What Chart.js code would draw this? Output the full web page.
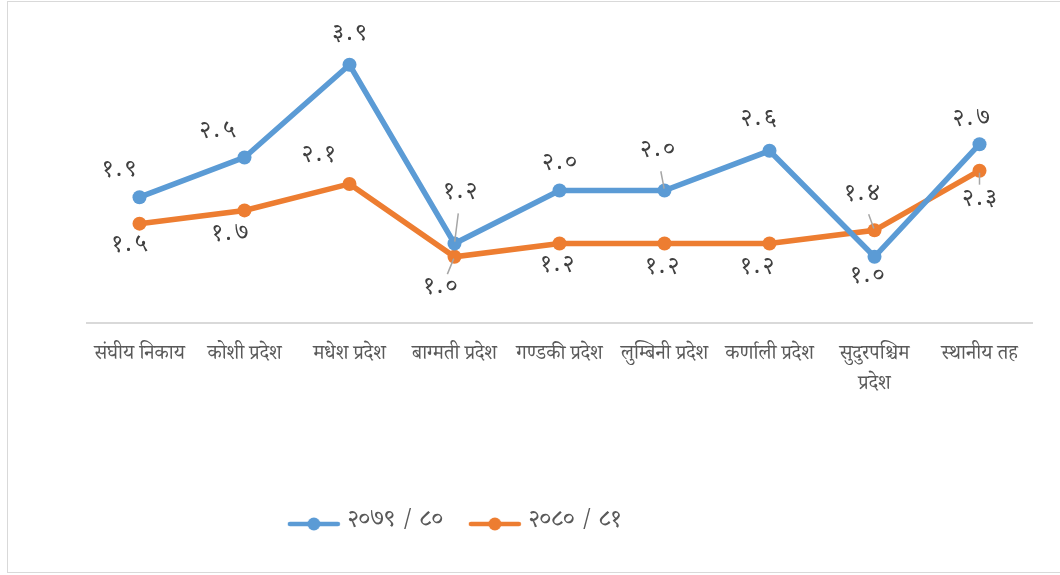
<!DOCTYPE html>
<html>
<head>
<meta charset="utf-8">
<script src="https://cdn.jsdelivr.net/npm/chart.js@4.4.1/dist/chart.umd.min.js"></script>
<style>
  html, body { margin: 0; padding: 0; background: #ffffff; }
  #wrap { position: absolute; left: 0; top: 0; width: 1060px; height: 575px; }
  #frame { position: absolute; left: 7px; top: 1px; width: 1060px; height: 570px;
           border-left: 1px solid #d9d9d9; border-top: 1px solid #d9d9d9; border-bottom: 1px solid #d9d9d9;
           pointer-events: none; }
</style>
</head>
<body>
<div id="wrap"><canvas id="c" width="1060" height="575"></canvas></div>
<div id="frame"></div>
<script>
// ---- data ----
const categories = [
  'संघीय निकाय', 'कोशी प्रदेश', 'मधेश प्रदेश', 'बाग्मती प्रदेश', 'गण्डकी प्रदेश',
  'लुम्बिनी प्रदेश', 'कर्णाली प्रदेश', ['सुदुरपश्चिम', 'प्रदेश'], 'स्थानीय तह'
];
const seriesNames = ['२०७९ / ८०', '२०८० / ८१'];
const values7980 = [1.9, 2.5, 3.9, 1.2, 2.0, 2.0, 2.6, 1.0, 2.7];
const values8081 = [1.5, 1.7, 2.1, 1.0, 1.2, 1.2, 1.2, 1.4, 2.3];

// ---- styling (label offsets relative to point, leader flags) ----
const labelOffsets = [
  [[-20,-24],[-27,-23],[0,-27],[6,-48],[0,-24],[-7,-37],[-11,-28],[-7,23],[-8,-22]],
  [[-10,25],[-14,27],[-31,-25],[-14,34],[-2,25],[-2,27],[-12,27],[-12,-33],[0,32]]
];
const leaders = [
  [false,false,false,true,false,true,false,false,false],
  [false,false,false,true,false,false,false,true,true]
];
const colors = ['#5b9bd5', '#ed7d31'];
const devFont = "'Noto Serif Devanagari','Lohit Devanagari','Mangal','Kokila','FreeSerif','Noto Sans Devanagari','Noto Sans',serif";

const toDev = s => String(s).replace(/[0-9]/g, d => '०१२३४५६७८९'[+d]);

function legendImage(color) {
  const c = document.createElement('canvas');
  c.width = 54; c.height = 16;
  const x = c.getContext('2d');
  x.strokeStyle = color; x.lineWidth = 4.5; x.lineCap = 'round';
  x.beginPath(); x.moveTo(3, 8); x.lineTo(51, 8); x.stroke();
  x.fillStyle = color; x.beginPath(); x.arc(27, 8, 6.5, 0, Math.PI * 2); x.fill();
  return c;
}
const legendImgs = colors.map(legendImage);

const dataLabelPlugin = {
  id: 'dataLabels',
  afterDatasetsDraw(chart) {
    const ctx = chart.ctx;
    ctx.save();
    chart.data.datasets.forEach((ds, di) => {
      const meta = chart.getDatasetMeta(di);
      meta.data.forEach((pt, i) => {
        const [dx, dy] = labelOffsets[di][i];
        const lx = pt.x + dx, ly = pt.y + dy;
        if (leaders[di][i]) {
          const dist = Math.hypot(dx, dy);
          const ux = dx / dist, uy = dy / dist;
          const len = dist - 18;
          ctx.strokeStyle = '#a6a6a6'; ctx.lineWidth = 1.5;
          ctx.beginPath();
          ctx.moveTo(pt.x + ux * 2, pt.y + uy * 2);
          ctx.lineTo(pt.x + ux * len, pt.y + uy * len);
          ctx.stroke();
        }
        ctx.fillStyle = '#404040';
        ctx.font = '24px ' + devFont;
        try { ctx.letterSpacing = '3px'; } catch (e) {}
        ctx.textAlign = 'center';
        ctx.textBaseline = 'middle';
        ctx.fillText(toDev(ds.data[i].toFixed(1)), lx + 1.5, ly);
      });
    });
    ctx.restore();
  }
};

const legendShift = {
  id: 'legendShift',
  afterLayout(chart) {
    const lg = chart.legend;
    if (!lg) return;
    const dx = -103;
    lg.left += dx; lg.right += dx;
    const h = lg.bottom - lg.top;
    const top = 482;
    lg.top = top; lg.bottom = top + h;
    if (lg.legendHitBoxes) lg.legendHitBoxes.forEach(b => { b.left += dx; });
  }
};

new Chart(document.getElementById('c'), {
  type: 'line',
  data: {
    labels: categories,
    datasets: [
      { label: seriesNames[0], data: values7980, borderColor: colors[0], backgroundColor: colors[0],
        borderWidth: 5.5, pointRadius: 7, pointHoverRadius: 7, pointBackgroundColor: colors[0],
        pointBorderWidth: 0, tension: 0, pointStyle: 'circle' },
      { label: seriesNames[1], data: values8081, borderColor: colors[1], backgroundColor: colors[1],
        borderWidth: 5.5, pointRadius: 7, pointHoverRadius: 7, pointBackgroundColor: colors[1],
        pointBorderWidth: 0, tension: 0, pointStyle: 'circle' }
    ]
  },
  options: {
    responsive: false,
    animation: false,
    layout: { padding: { left: 87, right: 28, top: 25, bottom: 0 } },
    scales: {
      y: { display: false, min: 0, max: 4.5 },
      x: {
        offset: true,
        grid: { display: false, drawTicks: false },
        border: { display: true, color: '#d9d9d9', width: 2 },
        ticks: { color: '#595959', font: { family: devFont, size: 20, lineHeight: 1.5 }, padding: 19,
                 maxRotation: 0, autoSkip: false },
        afterFit(scale) { scale.height = 188; }
      }
    },
    plugins: {
      tooltip: { enabled: false },
      legend: {
        position: 'bottom',
        labels: {
          usePointStyle: true,
          pointStyleWidth: 44,
          padding: 30,
          color: '#595959',
          font: { family: devFont, size: 24 },
          generateLabels(chart) {
            return chart.data.datasets.map((ds, i) => ({
              text: ds.label, fillStyle: colors[i], strokeStyle: colors[i], lineWidth: 0,
              pointStyle: legendImgs[i], hidden: false, datasetIndex: i, fontColor: '#595959'
            }));
          }
        }
      }
    }
  },
  plugins: [dataLabelPlugin, legendShift]
});
</script>
</body>
</html>
